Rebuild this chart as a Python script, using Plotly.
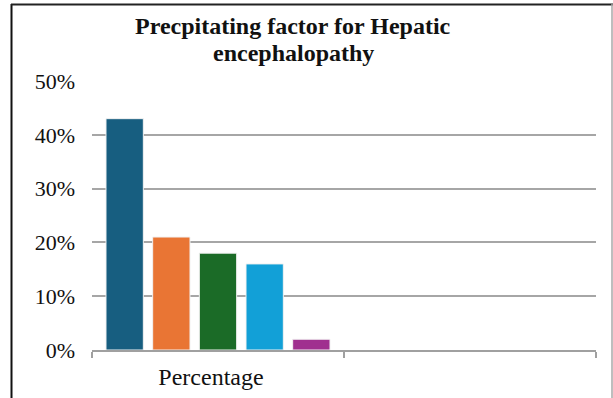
import plotly.graph_objects as go

# Chart data
categories = ["Percentage", " "]
series_names = ["Series 1", "Series 2", "Series 3", "Series 4", "Series 5"]
series_values = [43, 21, 18, 16, 2]
series_colors = ["#175E80", "#E97534", "#1B6B27", "#12A0D7", "#A0308F"]
y_ticks = [0, 10, 20, 30, 40, 50]
y_tick_labels = ["0%", "10%", "20%", "30%", "40%", "50%"]
title_lines = ["Precpitating factor for Hepatic", "encephalopathy"]

W, H = 613, 398
L, R, T, B = 92, 17, 81, 48

fig = go.Figure()
for name, val, col in zip(series_names, series_values, series_colors):
    fig.add_trace(go.Bar(
        x=[categories[0]], y=[val], name=name,
        marker=dict(color=col, line=dict(color="#F2F2F2", width=1)),
        showlegend=False,
    ))

serif = "Liberation Serif"

# helpers: pixel position -> paper coordinates
pw, ph = W - L - R, H - T - B
def px(x):
    return (x - L) / pw
def py(y):
    return (H - B - y) / ph

# frame around the chart
fig.add_shape(type="line", xref="paper", yref="paper",
              x0=px(11.5), x1=px(11.5), y0=py(4), y1=py(400),
              line=dict(color="#111111", width=2))
fig.add_shape(type="line", xref="paper", yref="paper",
              x0=px(11), x1=px(613), y0=py(4.5), y1=py(4.5),
              line=dict(color="#222222", width=2))
fig.add_shape(type="line", xref="paper", yref="paper",
              x0=px(612), x1=px(612), y0=py(4), y1=py(400),
              line=dict(color="#A8A8A8", width=1.5))

# two-line bold title
for line, yc in zip(title_lines, [26, 53]):
    fig.add_annotation(
        text="<b>%s</b>" % line, xref="paper", yref="paper",
        x=px(293), y=py(yc), xanchor="center", yanchor="middle",
        showarrow=False, font=dict(family=serif, size=24, color="#111111"),
    )

fig.update_layout(
    width=W, height=H,
    margin=dict(l=L, r=R, t=T, b=B, autoexpand=False),
    paper_bgcolor="white", plot_bgcolor="white",
    barmode="group", bargap=0.074, bargroupgap=0.2,
    font=dict(family=serif, size=22, color="#222222"),
    xaxis=dict(
        type="category", categoryorder="array", categoryarray=categories,
        range=[-0.5, 1.5], tickson="boundaries", ticks="outside",
        ticklen=6, tickcolor="#A0A0A0", tickwidth=1.5,
        showline=True, linecolor="#A0A0A0", linewidth=1.5,
        showgrid=False, ticklabelshift=-7, ticklabelstandoff=4,
        automargin=False,
        tickfont=dict(family=serif, size=24, color="#111111"),
    ),
    yaxis=dict(
        range=[0, 50], tickvals=y_ticks, ticktext=y_tick_labels,
        showgrid=True, gridcolor="#A6A6A6", gridwidth=1.5,
        zeroline=False, showline=False, ticks="",
        ticklabelstandoff=16, automargin=False,
        tickfont=dict(family=serif, size=22, color="#111111"),
    ),
)

fig.write_html("out.html")
